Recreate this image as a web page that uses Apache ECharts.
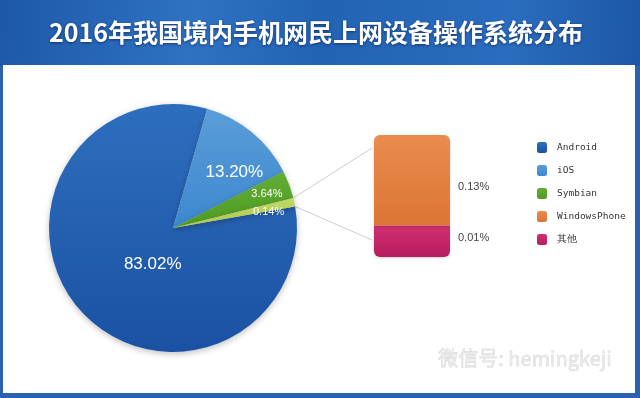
<!DOCTYPE html>
<html lang="zh">
<head>
  <meta charset="utf-8">
  <title>2016年我国境内手机网民上网设备操作系统分布</title>
  <script src="https://fastly.jsdelivr.net/npm/echarts@6/dist/echarts.min.js"></script>
  <style>
    * { margin: 0; padding: 0; }
    #main { width: 640px; height: 398px; }
  </style>
</head>
<body>
  <div id="main"></div>
  <script>
    // pie part
    var pieNames = ['Android', 'iOS', 'Symbian', 'WP+其他'];
    var pieValues = [83.02, 13.20, 3.64, 0.14];
    // bar part (the split of the small slice)
    var barNames = ['其他', 'WindowsPhone'];
    var barValues = [0.01, 0.13];
    var legendNames = ['Android', 'iOS', 'Symbian', 'WindowsPhone', '其他'];

    var pieColors = [
      ['#2e6ebe', '#1b51a2'],
      ['#5a9dd8', '#3d88cf'],
      ['#62ae33', '#4f9a26'],
      ['#c2d866', '#aac84e']
    ];
    var barColors = [['#cf2f71', '#b81c5e'], ['#e98c4d', '#dc7535']];
    // label nudges for the pie (dx, dy)
    var labelShift = [[28, -7], [20, -6], [33, -11], [32, -3]];
    var labelSize = [17, 17, 11, 11];
    var barLabelOffset = [[0, -3], [0, 7]];

    var cx = 173, cy = 228, R = 124, startAngle = 10;
    var gLeft = 374, gTop = 135, gW = 76, gH = 122;

    function grad(c) {
      return new echarts.graphic.LinearGradient(0, 0, 0, 1, [
        { offset: 0, color: c[0] }, { offset: 1, color: c[1] }
      ]);
    }

    var chart = echarts.init(document.getElementById('main'), null, { renderer: 'canvas' });

    // connector lines from the small slice to the bar
    var a1 = (startAngle + 4) * Math.PI / 180, a2 = startAngle * Math.PI / 180;
    var p1 = [cx + R * Math.cos(a1), cy - R * Math.sin(a1)];
    var p2 = [cx + R * Math.cos(a2), cy - R * Math.sin(a2)];

    function barSeries(i, radius) {
      return {
        type: 'bar',
        name: barNames[i],
        stack: 'rest',
        barWidth: '100%',
        data: [barValues[i]],
        itemStyle: {
          color: grad(barColors[i]),
          borderRadius: radius,
          shadowColor: 'rgba(0,0,0,0.18)', shadowBlur: 3, shadowOffsetY: 1
        },
        label: {
          show: true, position: 'right', distance: 8,
          offset: barLabelOffset[i],
          color: '#444', fontSize: 11, fontFamily: 'Liberation Sans',
          formatter: function (p) { return p.value.toFixed(2) + '%'; }
        }
      };
    }

    var option = {
      animation: false,
      backgroundColor: '#2a62ad',
      graphic: [
        {
          type: 'rect', z: -10, silent: true,
          shape: { x: 0, y: 0, width: 640, height: 66 },
          style: {
            fill: new echarts.graphic.LinearGradient(0, 0, 1, 1, [
              { offset: 0, color: '#1d58a8' },
              { offset: 0.3, color: '#2f72c2' },
              { offset: 0.5, color: '#2263b4' },
              { offset: 0.8, color: '#2a6cbd' },
              { offset: 1, color: '#1c57a6' }
            ])
          }
        },
        {
          type: 'rect', z: -9, silent: true,
          shape: { x: 3, y: 65, width: 632, height: 328 },
          style: { fill: '#ffffff' }
        },
        {
          type: 'line', silent: true, z: 1,
          shape: { x1: p1[0], y1: p1[1], x2: gLeft - 2, y2: gTop + 13 },
          style: { stroke: '#c9cdd6', lineWidth: 1 }
        },
        {
          type: 'line', silent: true, z: 1,
          shape: { x1: p2[0], y1: p2[1], x2: gLeft - 2, y2: gTop + gH - 17 },
          style: { stroke: '#c9cdd6', lineWidth: 1 }
        },
        {
          type: 'text', silent: true, right: 28, top: 348,
          style: {
            text: '微信号: hemingkeji',
            fontSize: 20,
            fontFamily: 'Noto Sans CJK SC',
            fill: '#e8e8e8',
            stroke: '#c2c2c2',
            lineWidth: 0.4
          }
        }
      ],
      title: {
        text: '2016年我国境内手机网民上网设备操作系统分布',
        left: 44,
        top: 15,
        textStyle: {
          color: '#ffffff',
          fontSize: 25,
          fontWeight: 'bold',
          fontFamily: 'Noto Sans CJK SC',
          textShadowColor: 'rgba(0,0,40,0.5)',
          textShadowBlur: 3,
          textShadowOffsetY: 1
        }
      },
      legend: {
        data: legendNames,
        orient: 'vertical',
        left: 532,
        top: 137,
        itemWidth: 10,
        itemHeight: 11,
        itemGap: 12,
        icon: 'roundRect',
        textStyle: {
          fontFamily: 'DejaVu Sans Mono', fontSize: 9.5, color: '#333',
          padding: [0, 0, 0, 5]
        }
      },
      grid: { left: gLeft, top: gTop, width: gW, height: gH },
      xAxis: { type: 'category', data: ['x'], show: false },
      yAxis: { type: 'log', min: 0.004, max: 0.14, startValue: 0.004, show: false },
      series: [
        {
          type: 'pie',
          center: [cx, cy],
          radius: R,
          startAngle: startAngle,
          minAngle: 4,
          avoidLabelOverlap: false,
          emphasis: { scale: false },
          itemStyle: {
            shadowColor: 'rgba(0,0,0,0.25)',
            shadowBlur: 6,
            shadowOffsetY: 2
          },
          label: {
            position: 'inside',
            color: '#ffffff',
            fontFamily: 'Liberation Sans',
            formatter: function (p) { return p.value.toFixed(2) + '%'; }
          },
          labelLine: { show: false },
          labelLayout: function (p) {
            var s = labelShift[p.dataIndex];
            return { dx: s[0], dy: s[1] };
          },
          data: pieNames.map(function (n, i) {
            return {
              name: n,
              value: pieValues[i],
              itemStyle: { color: grad(pieColors[i]) },
              label: { fontSize: labelSize[i] }
            };
          })
        },
        barSeries(0, [0, 0, 6, 6]),
        barSeries(1, [6, 6, 0, 0])
      ]
    };

    chart.setOption(option);
    window.addEventListener('resize', chart.resize);
  </script>
</body>
</html>
